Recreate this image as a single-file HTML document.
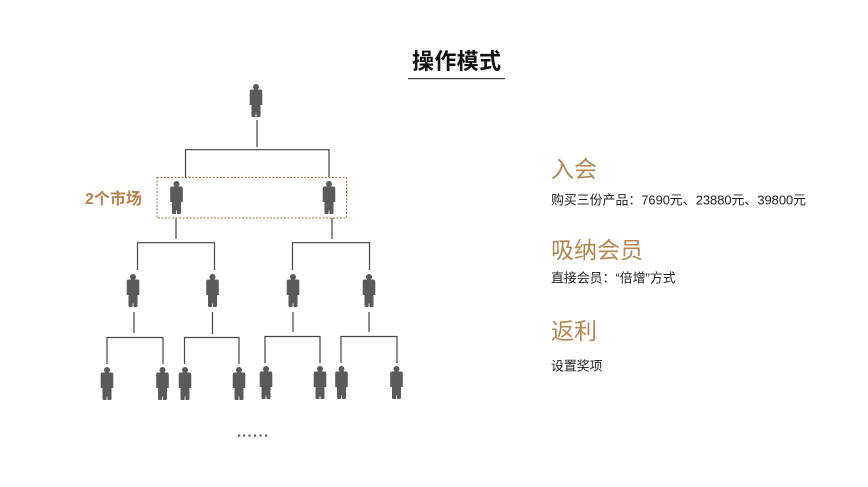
<!DOCTYPE html>
<html lang="zh">
<head>
<meta charset="utf-8">
<title>操作模式</title>
<style>
html,body{margin:0;padding:0;background:#fff;width:868px;height:487px;overflow:hidden}
svg{display:block;filter:blur(.35px)}
text{font-family:"Liberation Sans","Noto Sans CJK SC",sans-serif}
.h{font-size:23px;fill:#b5854f}
.s{font-size:12.9px;fill:#222}
.l{stroke:#444;stroke-width:1.2;fill:none}
</style>
</head>
<body>
<svg width="868" height="487" viewBox="0 0 868 487" xmlns="http://www.w3.org/2000/svg">
<defs>
<g id="p" fill="#5a5a5a">
<circle cx="0" cy="3" r="3"/>
<path d="M-4.500 5.500H4.500Q6.300 5.500 6.300 7.500V21H4.500V31.500Q4.500 33 3.500 33H1Q.4 33 .4 32V29.500H-.4V32Q-.4 33-1 33H-3.500Q-4.500 33-4.500 31.500V21H-6.300V7.500Q-6.300 5.500-4.500 5.500Z"/>
</g>
</defs>

<text x="412" y="69" font-size="22" font-weight="700" fill="#111" textLength="89">操作模式</text>
<rect x="408" y="78" width="97" height="1.2" fill="#333"/>

<g class="l">
<path d="M257 120V147"/>
<path d="M185.500 177V149.700H329V177"/>
<path d="M176 218V239"/>
<path d="M332 218V239"/>
<path d="M137.500 270V242.700H214.500V270"/>
<path d="M292.500 270V242.700H369.500V270"/>
<path d="M134 312V333"/>
<path d="M212.500 312V334"/>
<path d="M293 312V332"/>
<path d="M369 312V332"/>
<path d="M107 364V337.500H163V364"/>
<path d="M184.500 364V337.500H239V364"/>
<path d="M265 363V336.500H320V363"/>
<path d="M341 363V336.500H397V363"/>
</g>

<rect x="157" y="177.500" width="189.500" height="40.500" fill="none" stroke="#a8753f" stroke-width="1" stroke-dasharray="2 1.500"/>
<text x="85" y="204" font-size="16" font-weight="700" fill="#b5824a">2个市场</text>

<use href="#p" x="256" y="84"/>
<use href="#p" x="176.500" y="181"/>
<use href="#p" x="329" y="181"/>
<use href="#p" x="133" y="274"/>
<use href="#p" x="212.500" y="274"/>
<use href="#p" x="293" y="274"/>
<use href="#p" x="369" y="274"/>
<use href="#p" x="107" y="367"/>
<use href="#p" x="162.500" y="367"/>
<use href="#p" x="185" y="367"/>
<use href="#p" x="239" y="367"/>
<use href="#p" x="266" y="366"/>
<use href="#p" x="320" y="366"/>
<use href="#p" x="341.500" y="366"/>
<use href="#p" x="396.500" y="366"/>

<g fill="#666">
<rect x="238" y="434.500" width="2.200" height="2.200"/>
<rect x="243" y="434.500" width="2.200" height="2.200"/>
<rect x="248.500" y="434.500" width="2.200" height="2.200"/>
<rect x="254" y="434.500" width="2.200" height="2.200"/>
<rect x="259.500" y="434.500" width="2.200" height="2.200"/>
<rect x="265" y="434.500" width="2.200" height="2.200"/>
</g>

<text class="h" x="551" y="177">入会</text>
<text class="s" x="551" y="204.500">购买三份产品：7690元、23880元、39800元</text>
<text class="h" x="551" y="258">吸纳会员</text>
<text class="s" x="551" y="282.500">直接会员：“倍增”方式</text>
<text class="h" x="551" y="339">返利</text>
<text class="s" x="551" y="370.500">设置奖项</text>
</svg>
</body>
</html>
